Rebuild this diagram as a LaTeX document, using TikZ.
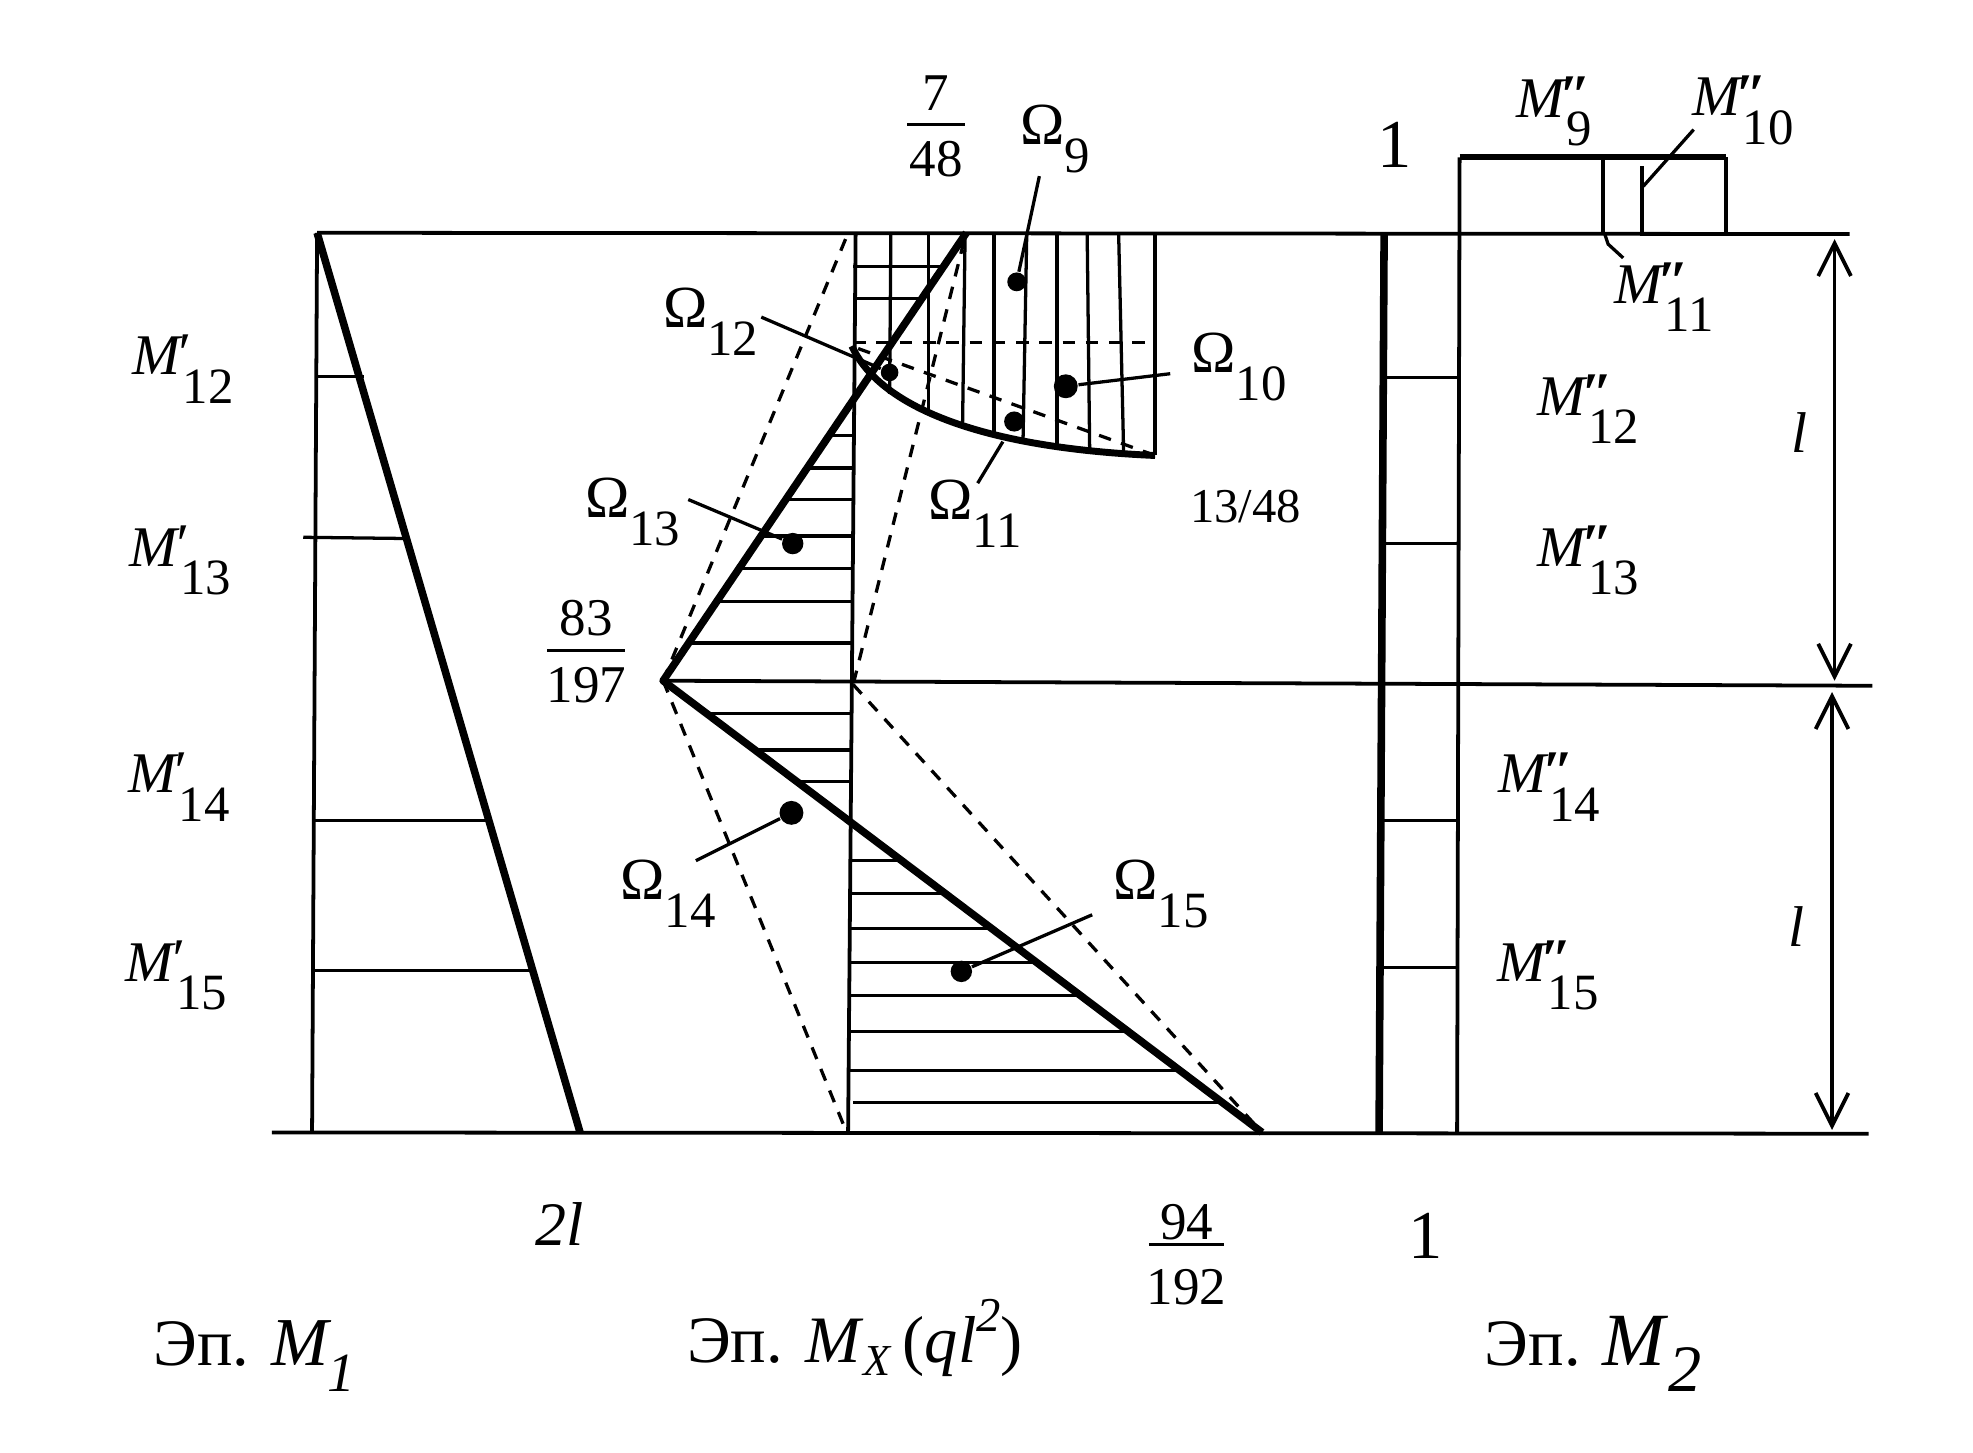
\documentclass[tikz,border=0pt]{standalone}
\usepackage{fontspec}
\setmainfont{Liberation Serif}
\usetikzlibrary{arrows.meta}
\newcommand{\fs}[1]{\fontsize{#1}{#1}\selectfont}
\newcommand{\Mlab}[2]{\fs{13}\textit{M}\rlap{\kern-1.6pt\raisebox{#1}{\fs{13}\bfseries\itshape ″}}\raisebox{-6.4pt}{\fs{11.5}#2}}
\newcommand{\Mpl}[1]{\fs{13}\textit{M}\rlap{\kern-1.6pt\raisebox{0.6pt}{\fs{13}\itshape ′}}\raisebox{-6.4pt}{\fs{11.5}#1}}
\newcommand{\Olab}[1]{\fs{13.5}Ω\raisebox{-6.4pt}{\fs{11.5}#1}}
\tikzset{
  thinl/.style={line width=0.3mm},
  hatchl/.style={line width=0.26mm},
  heavy/.style={line width=0.6mm,line join=round},
  dashl/.style={line width=0.26mm,dash pattern=on 1mm off 0.85mm},
  leader/.style={line width=0.26mm},
  dimen/.style={line width=0.3mm,{Straight Barb[length=2.6mm,width=2.6mm,line width=0.3mm]}-{Straight Barb[length=2.6mm,width=2.6mm,line width=0.3mm]}},
  lab/.style={anchor=base west,inner sep=0pt,outer sep=0pt},
  cen/.style={anchor=base,inner sep=0pt,outer sep=0pt},
  blob/.style={circle,fill=black,inner sep=0pt},
}
\begin{document}
\begin{tikzpicture}[x=0.1mm,y=-0.1mm]
\useasboundingbox (0,0) rectangle (1568,1154);
% key points
\coordinate (t0) at (252,185); \coordinate (t1) at (1470,186);
\coordinate (b0) at (216,900); \coordinate (b1) at (1485,901);
\coordinate (apex) at (527,541); \coordinate (mr) at (1488,545);
\coordinate (mxtop) at (768,185); \coordinate (mxbot) at (1003,900);
\coordinate (axt) at (680,185); \coordinate (axb) at (674,900);
\coordinate (cs) at (677,275); \coordinate (ce) at (918,362);
\coordinate (axm) at (678,544);
% base lines
\draw[thinl] (t0) -- (t1);
\draw[thinl] (b0) -- (b1);
\draw[thinl] (apex) -- (mr);
% Ep. M1
\draw[thinl] (t0) -- (248,900);
\draw[heavy] (t0) -- (461,900);
\draw[hatchl] (252,299) -- (289,299);
\draw[hatchl] (241,427) -- (325,428);
\draw[hatchl] (248,652) -- (387,652);
\draw[hatchl] (248,771) -- (421,771);
% Ep. Mx
\draw[thinl] (axt) -- (axb);
\draw[thinl] (918,185) -- (ce);
\foreach \xa/\xb/\yb in {708/707/313,738/738/328,767/765/336,790/790/346,816/813/352,840/840/356,864/866/358,889/893/360}
  \draw[hatchl] (\xa,185) -- (\xb,\yb);
\foreach \y/\xa/\xb in {212/678/747,237/678/731,346/657/677,372/642/677,397/625/677,426/605/677,452/587/677,478/570/677,511/547/677,567/561/677,596/600/676,621/633/676,684/676/717,710/676/751,738/676/788,765/675/824,791/675/858,820/675/897,851/675/938,876/678/971}
  \draw[hatchl] (\xa,\y) -- (\xb,\y);
\draw[dashl] (678,272) -- (918,272);
\draw[dashl] (682,277) -- (ce);
\draw[dashl] (672,190) -- (apex);
\draw[dashl] (apex) -- (670,893);
\draw[dashl] (766,192) -- (axm);
\draw[dashl] (axm) -- (mxbot);
\draw[heavy] (mxtop) -- (apex) -- (mxbot);
\draw[line width=0.55mm] (cs) .. controls (695,315) and (760,355) .. (ce);
% Ep. M2
\draw[heavy] (1100,185) -- (1096,900);
\draw[thinl] (1160,125) -- (1158,900);
\draw[thinl] (1372,125) -- (1372,185);
\draw[line width=0.45mm] (1160,125) -- (1372,125);
\draw[hatchl] (1274,125) -- (1274,185);
\draw[hatchl] (1305,132) -- (1305,185);
\draw[hatchl] (1100,300) -- (1160,300);
\draw[hatchl] (1100,432) -- (1160,432);
\draw[hatchl] (1096,652) -- (1158,652);
\draw[hatchl] (1096,769) -- (1158,769);
% dimension lines
\coordinate (d1) at (1458,190); \coordinate (d2) at (1458,541);
\coordinate (d3) at (1456,550); \coordinate (d4) at (1456,898);
\draw[dimen] (d1) -- (d2);
\draw[dimen] (d3) -- (d4);
% blobs
\node[blob,minimum size=1.5mm] (p9) at (808,224) {};
\node[blob,minimum size=1.9mm] (p10) at (847,307) {};
\node[blob,minimum size=1.6mm] (p11) at (806,335) {};
\node[blob,minimum size=1.4mm] (p12) at (707,296) {};
\node[blob,minimum size=1.7mm] (p13) at (630,432) {};
\node[blob,minimum size=1.9mm] (p14) at (629,646) {};
\node[blob,minimum size=1.7mm] (p15) at (764,772) {};
% leaders' free ends
\coordinate (l9) at (826,140); \coordinate (l10) at (930,297);
\coordinate (l11a) at (777,384); \coordinate (l11b) at (797,351);
\coordinate (l12) at (605,252); \coordinate (l13) at (547,397);
\coordinate (l14) at (553,684); \coordinate (l15) at (868,727);
\draw[leader] (p9) -- (l9);
\draw[leader] (p10) -- (l10);
\draw[leader] (l11a) -- (l11b);
\draw[leader] (p12) -- (l12);
\draw[leader] (p13) -- (l13);
\draw[leader] (p14) -- (l14);
\draw[leader] (p15) -- (l15);
\coordinate (m10a) at (1306,148); \coordinate (m10b) at (1346,103);
\coordinate (m11a) at (1275,185); \coordinate (m11b) at (1278,194); \coordinate (m11c) at (1290,205);
\draw[leader] (m10a) -- (m10b);
\draw[leader] (m11a) -- (m11b) -- (m11c);
% M' labels
\node[lab] (ma12) at (105,298) {\Mpl{12}};
\node[lab] (ma13) at (103,450) {\Mpl{13}};
\node[lab] (ma14) at (102,630) {\Mpl{14}};
\node[lab] (ma15) at (100,780) {\Mpl{15}};
% M'' labels
\node[lab] (mb9) at (1205,93) {\Mlab{0.6pt}{9}};
\node[lab] (mb10) at (1345,92) {\Mlab{0.6pt}{10}};
\node[lab] (mb11) at (1283,241) {\Mlab{0.6pt}{11}};
\node[lab] (mb12) at (1222,330) {\Mlab{0.6pt}{12}};
\node[lab] (mb13) at (1222,450) {\Mlab{0.6pt}{13}};
\node[lab] (mb14) at (1191,630) {\Mlab{0.6pt}{14}};
\node[lab] (mb15) at (1190,780) {\Mlab{0.6pt}{15}};
% Omega labels
\node[lab] (o9) at (811,115) {\Olab{9}};
\node[lab] (o10) at (947,296) {\Olab{10}};
\node[lab] (o11) at (738,413) {\Olab{11}};
\node[lab] (o12) at (527,260) {\Olab{12}};
\node[lab] (o13) at (465,411) {\Olab{13}};
\node[lab] (o14) at (493,715) {\Olab{14}};
\node[lab] (o15) at (885,715) {\Olab{15}};
% fractions
\draw[thinl] (721,99) -- (767,99);
\node[cen] (f7) at (744,88) {\fs{12}7};
\node[cen] (f48) at (744,140) {\fs{12}48};
\draw[thinl] (435,517) -- (497,517);
\node[cen] (f83) at (466,505) {\fs{12}83};
\node[cen] (f197) at (466,558) {\fs{12}197};
\draw[thinl] (913,989) -- (973,989);
\node[cen] (f94) at (943,985) {\fs{12}94};
\node[cen] (f192) at (943,1037) {\fs{12}192};
\node[cen] (f1348) at (990,415) {\fs{11}13/48};
% other values
\node[cen] (one1) at (1108,133) {\fs{15.5}1};
\node[cen] (one2) at (1133,1000) {\fs{15.5}1};
\node[cen] (twol) at (445,990) {\fs{14}\textit{2l}};
\node[cen] (ell1) at (1430,360) {\fs{13}\textit{l}};
\node[cen] (ell2) at (1428,752) {\fs{13}\textit{l}};
% captions
\node[lab] (c1) at (122,1085) {\fs{15}Эп. \fs{15.5}\textit{M}\kern-1pt\raisebox{-6pt}{\fs{12.5}\textit{1}}};
\node[lab] (c2) at (546,1083) {\fs{15}Эп. \textit{M}\raisebox{-3pt}{\fs{10}\textit{X}}\,(\textit{ql}\raisebox{7pt}{\fs{11}\textit{2}})};
\node[lab] (c3) at (1180,1085) {\fs{15}Эп. \fs{17}\textit{M}\raisebox{-6pt}{\fs{15}\textit{2}}};
\end{tikzpicture}
\end{document}
